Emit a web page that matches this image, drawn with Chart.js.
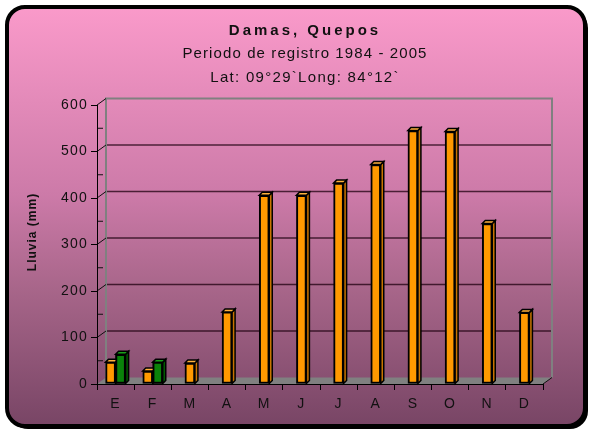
<!DOCTYPE html>
<html>
<head>
<meta charset="utf-8">
<script src="https://cdn.jsdelivr.net/npm/chart.js@4/dist/chart.umd.min.js"></script>
<style>
  html, body { margin: 0; padding: 0; background: #fff; }
  canvas { display: block; }
</style>
</head>
<body>
<canvas id="grafico" width="590" height="435"></canvas>
<script>
(function() {
  'use strict';

  // etiquetas del eje x (meses)
  var meses = ['E', 'F', 'M', 'A', 'M', 'J', 'J', 'A', 'S', 'O', 'N', 'D'];
  // lluvia promedio mensual (mm)
  var lluvia = [47, 28, 45, 155, 406, 406, 432, 472, 545, 543, 345, 154];
  // segunda serie (solo enero y febrero)
  var lluvia2 = [64, 47, null, null, null, null, null, null, null, null, null, null];
  // marcas del eje y
  var marcasY = [0, 100, 200, 300, 400, 500, 600];

  var titulo = 'Damas, Quepos';
  var subtitulo = ['Periodo de registro 1984 - 2005', 'Lat: 09\u00b029`Long: 84\u00b012`'];
  var tituloEjeY = 'Lluvia (mm)';

  var FUENTE = "'Liberation Sans', Arial, sans-serif";
  var PARED_DX = 9, PARED_DY = 6.5; // profundidad del fondo 3D
  var BARRA_D = 3;                  // profundidad de cada barra

  function rectRedondo(ctx, x, y, w, h, r) {
    ctx.beginPath();
    ctx.moveTo(x + r, y);
    ctx.arcTo(x + w, y, x + w, y + h, r);
    ctx.arcTo(x + w, y + h, x, y + h, r);
    ctx.arcTo(x, y + h, x, y, r);
    ctx.arcTo(x, y, x + w, y, r);
    ctx.closePath();
  }

  function linea(ctx, x1, y1, x2, y2) {
    ctx.beginPath();
    ctx.moveTo(x1, y1);
    ctx.lineTo(x2, y2);
    ctx.stroke();
  }

  var escena = {
    id: 'escena',
    beforeUpdate: function(chart) {
      chart.ctx.letterSpacing = '1.2px';
    },
    beforeDraw: function(chart) {
      var ctx = chart.ctx;
      var area = chart.chartArea;
      var y = chart.scales.y;
      ctx.letterSpacing = '1.2px';

      ctx.save();
      ctx.fillStyle = '#fff';
      ctx.fillRect(0, 0, chart.width, chart.height);

      // marco con sombra y degradado
      rectRedondo(ctx, 10, 10, 578, 419, 18);
      ctx.fillStyle = '#000';
      ctx.fill();
      var grad = ctx.createLinearGradient(0, 7, 0, 426);
      grad.addColorStop(0, '#fa9aca');
      grad.addColorStop(0.45, '#cc7aa8');
      grad.addColorStop(0.67, '#a8668a');
      grad.addColorStop(1, '#784565');
      rectRedondo(ctx, 7, 7, 578, 419, 18);
      ctx.fillStyle = grad;
      ctx.fill();
      ctx.lineWidth = 4;
      ctx.strokeStyle = '#000';
      ctx.stroke();

      // titulos
      ctx.fillStyle = '#111';
      ctx.textAlign = 'center';
      ctx.textBaseline = 'alphabetic';
      ctx.font = 'bold 15px ' + FUENTE;
      ctx.letterSpacing = '3px';
      ctx.fillText(titulo, 305, 35);
      ctx.font = '15px ' + FUENTE;
      ctx.letterSpacing = '1.1px';
      ctx.fillText(subtitulo[0], 305, 58);
      ctx.letterSpacing = '1.3px';
      ctx.fillText(subtitulo[1], 305, 82);

      // titulo del eje y
      ctx.save();
      ctx.translate(33, 232);
      ctx.rotate(-Math.PI / 2);
      ctx.font = 'bold 12px ' + FUENTE;
      ctx.letterSpacing = '1px';
      ctx.textBaseline = 'middle';
      ctx.fillText(tituloEjeY, 0, 0);
      ctx.restore();

      var L = area.left, R = area.right, T = area.top, B = area.bottom;

      // piso
      ctx.fillStyle = '#808080';
      ctx.beginPath();
      ctx.moveTo(L, B);
      ctx.lineTo(L + PARED_DX, B - PARED_DY);
      ctx.lineTo(R + PARED_DX, B - PARED_DY);
      ctx.lineTo(R, B);
      ctx.closePath();
      ctx.fill();

      // lineas de division en la pared del fondo
      ctx.lineWidth = 1.5;
      ctx.strokeStyle = 'rgba(30,0,15,0.75)';
      marcasY.forEach(function(v) {
        if (v === 0 || v === marcasY[marcasY.length - 1]) return;
        var py = y.getPixelForValue(v) - PARED_DY;
        linea(ctx, L + PARED_DX, py, R + PARED_DX, py);
      });

      // borde de la pared
      ctx.lineWidth = 2;
      ctx.strokeStyle = '#808080';
      ctx.beginPath();
      ctx.moveTo(L + PARED_DX, B - PARED_DY);
      ctx.lineTo(L + PARED_DX, T - PARED_DY);
      ctx.lineTo(R + PARED_DX, T - PARED_DY);
      ctx.lineTo(R + PARED_DX, B - PARED_DY);
      ctx.stroke();

      // diagonales desde las marcas y marcas menores
      ctx.lineWidth = 1;
      ctx.strokeStyle = '#111';
      marcasY.forEach(function(v, i) {
        var py = y.getPixelForValue(v);
        if (v !== 0) linea(ctx, L, py, L + PARED_DX, py - PARED_DY);
        if (i > 0) {
          var pm = y.getPixelForValue((v + marcasY[i - 1]) / 2);
          linea(ctx, L, pm, L + 6, pm);
        }
      });
      linea(ctx, R, B, R + PARED_DX, B - PARED_DY);
      ctx.restore();
    },
    afterDatasetsDraw: function(chart) {
      var ctx = chart.ctx;
      chart.data.datasets.forEach(function(ds, i) {
        var meta = chart.getDatasetMeta(i);
        meta.data.forEach(function(el, j) {
          if (ds.data[j] === null) return;
          if (i > 0) el.draw(ctx, chart.chartArea);
          var izq = el.x - el.width / 2, der = el.x + el.width / 2;
          var arriba = el.y, abajo = el.base;
          ctx.save();
          ctx.lineWidth = 1.5;
          ctx.strokeStyle = '#000';
          ctx.lineJoin = 'miter';
          // cara lateral
          ctx.beginPath();
          ctx.moveTo(der, arriba);
          ctx.lineTo(der + BARRA_D, arriba - BARRA_D);
          ctx.lineTo(der + BARRA_D, abajo - BARRA_D);
          ctx.lineTo(der, abajo);
          ctx.closePath();
          ctx.fillStyle = ds.colorLado;
          ctx.fill();
          ctx.stroke();
          // cara superior
          ctx.beginPath();
          ctx.moveTo(izq, arriba);
          ctx.lineTo(izq + BARRA_D, arriba - BARRA_D);
          ctx.lineTo(der + BARRA_D, arriba - BARRA_D);
          ctx.lineTo(der, arriba);
          ctx.closePath();
          ctx.fillStyle = ds.colorArriba;
          ctx.fill();
          ctx.stroke();
          ctx.restore();
        });
      });
    }
  };

  new Chart(document.getElementById('grafico'), {
    type: 'bar',
    data: {
      labels: meses,
      datasets: [{
        label: 'Lluvia',
        data: lluvia,
        backgroundColor: '#ff9900',
        colorLado: '#c87400',
        colorArriba: '#ffb13c',
        borderColor: '#000',
        borderWidth: 2,
        borderSkipped: false
      }, {
        label: 'Lluvia 2',
        data: lluvia2,
        backgroundColor: '#0a820a',
        colorLado: '#005a00',
        colorArriba: '#1aa01a',
        borderColor: '#000',
        borderWidth: 2,
        borderSkipped: false
      }]
    },
    options: {
      responsive: false,
      animation: false,
      events: [],
      barThickness: 10,
      skipNull: true,
      layout: { padding: { top: 105, right: 47, bottom: 0, left: 0 } },
      plugins: {
        legend: { display: false },
        title: { display: false },
        tooltip: { enabled: false }
      },
      scales: {
        x: {
          afterFit: function(scale) { scale.height = 51; },
          border: { display: true, color: '#000', width: 1 },
          grid: { drawOnChartArea: false, color: '#000', tickLength: 6, offset: true },
          ticks: { color: '#111', padding: 6, font: { family: FUENTE, size: 14 } }
        },
        y: {
          min: 0,
          max: 600,
          afterFit: function(scale) { scale.width = 97; },
          afterBuildTicks: function(scale) {
            scale.ticks = marcasY.map(function(v) { return { value: v }; });
          },
          border: { display: true, color: '#000', width: 1 },
          grid: { drawOnChartArea: false, color: '#000', tickLength: 6 },
          ticks: { color: '#111', padding: 3, font: { family: FUENTE, size: 14 } }
        }
      }
    },
    plugins: [escena]
  });
})();
</script>
</body>
</html>
